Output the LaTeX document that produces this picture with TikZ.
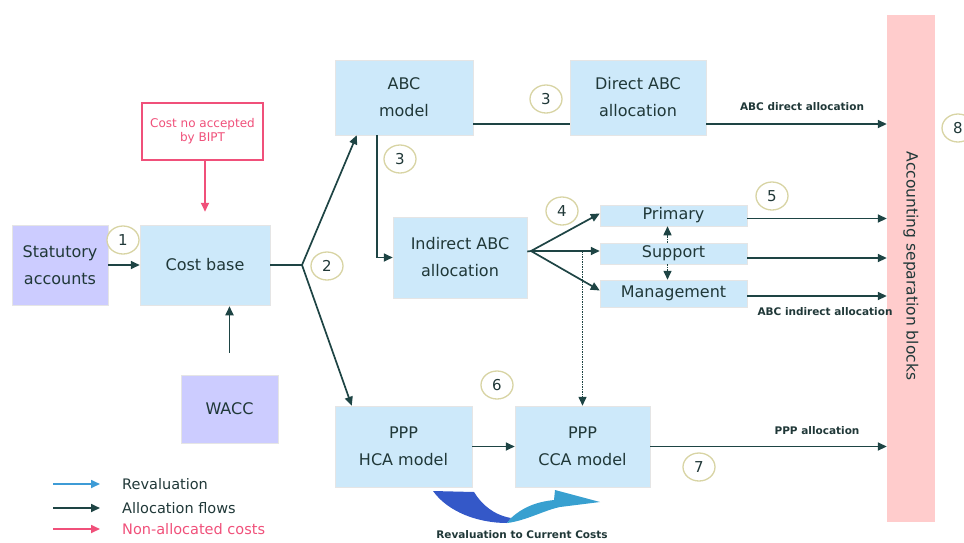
\documentclass[tikz,border=0pt]{standalone}
\usepackage{fontspec}
\setmainfont{DejaVu Sans}
\usetikzlibrary{arrows.meta,shapes.geometric}
\definecolor{boxblue}{HTML}{CDE9FA}
\definecolor{lav}{HTML}{CCCCFF}
\definecolor{pinkb}{HTML}{FFCCCC}
\definecolor{redc}{HTML}{F0507A}
\definecolor{darkc}{HTML}{1E4444}
\definecolor{txt}{HTML}{203838}
\definecolor{khaki}{HTML}{D8D4A4}
\definecolor{rvdark}{HTML}{3458C8}
\definecolor{rvlight}{HTML}{38A0D0}
\definecolor{legblue}{HTML}{3D9BD6}
\begin{document}
\begin{tikzpicture}[x=1pt,y=-1pt,
  box/.style={fill=boxblue, draw=black!10, line width=0.5pt, inner sep=0pt, align=center, text=txt, font=\fontsize{16}{27}\selectfont},
  lbox/.style={box, fill=lav},
  flow/.style={draw=darkc, line width=1.7pt, -{Triangle[length=9pt,width=8pt]}},
  plain/.style={draw=darkc, line width=1.7pt},
  dotflow/.style={draw=darkc, line width=1.5pt, densely dotted, -{Triangle[length=9pt,width=8pt]}},
  redflow/.style={draw=redc, line width=1.7pt, -{Triangle[length=9pt,width=8pt]}},
  blueflow/.style={draw=legblue, line width=1.7pt, -{Triangle[length=9pt,width=8pt]}},
  num/.style={ellipse, draw=khaki, line width=1.3pt, fill=white, minimum width=32pt, minimum height=28pt, inner sep=0pt, text=txt, font=\fontsize{15}{15}\selectfont},
  small/.style={text=txt, font=\bfseries\fontsize{10.5}{12}\selectfont, inner sep=0pt},
  legtxt/.style={anchor=west, inner sep=0pt, text=txt, font=\fontsize{14.5}{16}\selectfont}
]
\useasboundingbox (0,0) rectangle (964,542);

% accounting separation blocks
\node[fill=pinkb, minimum width=48pt, minimum height=507pt, inner sep=0pt] (acc) at (911,268.5) {};
\node[rotate=-90, text=txt, font=\fontsize{15.5}{17}\selectfont] (acctxt) at (911,266) {Accounting separation blocks};

% boxes
\node[lbox, minimum width=96pt, minimum height=80pt] (stat) at (60,265) {Statutory\\accounts};
\node[box, minimum width=130pt, minimum height=80pt] (cost) at (205,265) {Cost base};
\node[draw=redc, line width=1.4pt, fill=white, minimum width=121pt, minimum height=57pt, inner sep=0pt, align=center, text=redc, font=\fontsize{12}{14}\selectfont] (nacc) at (202.5,131.5) {Cost no accepted\\by BIPT};
\node[lbox, minimum width=97pt, minimum height=68pt] (wacc) at (229.5,409) {WACC};
\node[box, minimum width=138pt, minimum height=75pt] (abc) at (404,97.5) {ABC\\model};
\node[box, minimum width=136pt, minimum height=75pt] (dabc) at (638,97.5) {Direct ABC\\allocation};
\node[box, minimum width=134pt, minimum height=81pt] (iabc) at (460,257.5) {Indirect ABC\\allocation};
\node[box, minimum width=147pt, minimum height=21pt] (prim) at (673.5,215.5) {Primary};
\node[box, minimum width=147pt, minimum height=21pt] (supp) at (673.5,253.5) {Support};
\node[box, minimum width=147pt, minimum height=27pt] (mgmt) at (673.5,293.5) {Management};
\node[box, minimum width=137pt, minimum height=81pt] (hca) at (403.5,446.5) {PPP\\HCA model};
\node[box, minimum width=135pt, minimum height=81pt] (cca) at (582.5,446.5) {PPP\\CCA model};

% coordinates
\coordinate (s2) at (302,265);
\coordinate (s4) at (531,251);

% connectors
\draw[flow] (stat) -- (cost);
\draw[redflow, shorten >=13pt] (nacc.south -| cost.north) -- (cost.north);
\draw[flow, shorten <=22pt, shorten >=1pt] (wacc.north) -- (wacc.north |- cost.south);
\draw[plain] (cost.east |- s2) -- (s2);
\draw[flow] (s2) -- ([xshift=22pt]abc.south west);
\draw[flow] (s2) -- ([xshift=17pt]hca.north west);
\draw[plain] ([yshift=-26.5pt]abc.east) -- ([yshift=-26.5pt]dabc.west);
\draw[flow] ([yshift=-26.5pt]dabc.east) -- ([yshift=-26.5pt]dabc.east -| acc.west);
\draw[flow] ([xshift=42pt]abc.south west) |- (iabc.west);
\draw[plain] ([yshift=6pt]iabc.east) -- (s4);
\draw[flow] (s4) -- ([yshift=2pt]prim.west);
\draw[flow] (s4) -- (s4 -| supp.west);
\draw[flow] (s4) -- ([yshift=3pt]mgmt.west);
\draw[dotflow] ([xshift=-6pt]supp.north) -- ([xshift=-6pt]prim.south);
\draw[dotflow] ([xshift=-6pt]supp.south) -- ([xshift=-6pt]mgmt.north);
\draw[dotflow] (s4 -| cca.north) -- (cca.north);
\draw[flow] ([yshift=-3pt]prim.east) -- ([yshift=-3pt]prim.east -| acc.west);
\draw[flow] ([yshift=-4.5pt]supp.east) -- ([yshift=-4.5pt]supp.east -| acc.west);
\draw[flow] ([yshift=-2.5pt]mgmt.east) -- ([yshift=-2.5pt]mgmt.east -| acc.west);
\draw[flow] (hca) -- (cca);
\draw[flow] (cca.east) -- (cca.east -| acc.west);

% labels
\node[small] (ldir) at (802,107) {ABC direct allocation};
\node[small] (lind) at (825,312) {ABC indirect allocation};
\node[small] (lppp) at (817,431) {PPP allocation};
\node[small] (lrev) at (522,535) {Revaluation to Current Costs};

% numbers
\node[num] (n1) at (123,240) {1};
\node[num] (n2) at (327,266) {2};
\node[num] (n3a) at (546,99) {3};
\node[num] (n3b) at (400,159) {3};
\node[num] (n4) at (562,211) {4};
\node[num] (n5) at (772,196) {5};
\node[num] (n6) at (497,385) {6};
\node[num] (n7) at (699,467) {7};
\node[num] (n8) at (958,128) {8};

% revaluation swoosh
\fill[rvdark] (433,491) -- (474,492) .. controls (482,505) and (494,515) .. (511,518) -- (507,523) .. controls (478,523) and (448,512) .. (433,491) -- cycle;
\fill[rvlight] (507,523) .. controls (525,521) and (545,510) .. (560,507) -- (600,502) -- (555,490) -- (554,500) .. controls (535,502) and (522,508) .. (511,518) -- cycle;

% legend
\coordinate (la1) at (53,484); \coordinate (lb1) at (100,484);
\coordinate (la2) at (53,508); \coordinate (lb2) at (100,508);
\coordinate (la3) at (53,529); \coordinate (lb3) at (100,529);
\draw[blueflow] (la1) -- (lb1);
\draw[flow] (la2) -- (lb2);
\draw[redflow] (la3) -- (lb3);
\node[legtxt] (t1) at (122,484) {Revaluation};
\node[legtxt] (t2) at (122,508) {Allocation flows};
\node[legtxt, text=redc] (t3) at (122,529) {Non-allocated costs};
\end{tikzpicture}
\end{document}
